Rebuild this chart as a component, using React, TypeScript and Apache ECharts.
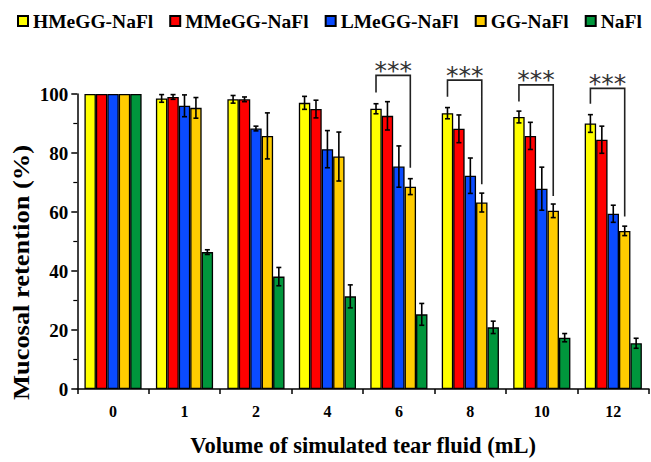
import React, { useEffect, useRef } from "react";
import * as echarts from "echarts";

const categories = ["0", "1", "2", "4", "6", "8", "10", "12"];
const seriesNames = ["HMeGG-NaFl", "MMeGG-NaFl", "LMeGG-NaFl", "GG-NaFl", "NaFl"];
const seriesColors = ["#FFFF00", "#FF0000", "#0A4BFF", "#FFCC00", "#00963C"];

const hmeggValues = [100, 98.5, 98.2, 97, 95, 93.5, 92.2, 90];
const hmeggErrors = [0, 1.3, 1.3, 2.2, 1.7, 1.9, 2, 3];
const mmeggValues = [100, 99, 98.2, 94.9, 92.6, 88.2, 85.8, 84.5];
const mmeggErrors = [0, 0.8, 0.8, 3, 4.8, 4.7, 4.6, 4.6];
const lmeggValues = [100, 96, 88.3, 81.3, 75.4, 72.3, 67.9, 59.4];
const lmeggErrors = [0, 3.7, 0.8, 6.3, 7, 6, 7.3, 2.9];
const ggValues = [100, 95.3, 85.8, 78.8, 68.6, 63.2, 60.4, 53.6];
const ggErrors = [0, 3.5, 7.8, 8.3, 2.7, 3.2, 2.3, 1.6];
const naflValues = [100, 46.4, 38.1, 31.4, 25.3, 20.9, 17.4, 15.5];
const naflErrors = [0, 0.8, 3.1, 3.9, 3.7, 2.1, 1.4, 1.7];

// significance brackets: [category index, left end, right end, top] in axis units
const sigCategoryIdx = [4, 5, 6, 7];
const sigLeftEnd = [100.5, 99.1, 97.5, 96.7];
const sigRightEnd = [75, 69.4, 65.4, 58.5];
const sigTop = [106.3, 104.7, 103.1, 101.9];
const sigLabel = "***";

const yTicks = { min: 0, max: 100, interval: 20 };

const allValues = [hmeggValues, mmeggValues, lmeggValues, ggValues, naflValues];
const allErrors = [hmeggErrors, mmeggErrors, lmeggErrors, ggErrors, naflErrors];

const SERIF = '"Liberation Serif", "Times New Roman", serif';
const CAT_GAP = 0.2;

export default function App() {
  const ref = useRef<HTMLDivElement>(null);
  useEffect(() => {
    document.body.style.margin = "0";
    if (!ref.current) return;
    const chart = echarts.init(ref.current, undefined, { renderer: "svg" });

    const barSeries = seriesNames.map((name, i) => ({
      name,
      type: "bar",
      data: allValues[i],
      barGap: "0%",
      barCategoryGap: "20%",
      itemStyle: { color: seriesColors[i], borderColor: "#000", borderWidth: 1.3 },
      z: 2,
    }));

    const errSeries = seriesNames.map((name, i) => ({
      name: "err-" + name,
      type: "custom",
      z: 5,
      silent: true,
      data: allValues[i].map((v, k) => [k, v, allErrors[i][k]]),
      encode: { x: 0, y: 1 },
      renderItem: (params: any, api: any) => {
        const c = api.value(0);
        const v = api.value(1);
        const e = api.value(2);
        if (!e) return null;
        const band = api.size([1, 0])[0];
        const bw = (band * (1 - CAT_GAP)) / 5;
        const off = (i - 2) * bw;
        const top = api.coord([c, v + e]);
        const bot = api.coord([c, v - e]);
        const x = top[0] + off;
        const cap = 2.5;
        const st = { stroke: "#000", lineWidth: 1.6 };
        return {
          type: "group",
          children: [
            { type: "line", shape: { x1: x, y1: top[1], x2: x, y2: bot[1] }, style: st },
            { type: "line", shape: { x1: x - cap, y1: top[1], x2: x + cap, y2: top[1] }, style: st },
            { type: "line", shape: { x1: x - cap, y1: bot[1], x2: x + cap, y2: bot[1] }, style: st },
          ],
        };
      },
    }));

    const sigSeries = {
      name: "significance",
      type: "custom",
      z: 6,
      silent: true,
      clip: false,
      data: sigCategoryIdx.map((c, k) => [c, sigLeftEnd[k], sigRightEnd[k], sigTop[k]]),
      encode: { x: 0, y: 1 },
      renderItem: (params: any, api: any) => {
        const c = api.value(0);
        const band = api.size([1, 0])[0];
        const bw = (band * (1 - CAT_GAP)) / 5;
        const pL = api.coord([c, api.value(1)]);
        const pR = api.coord([c, api.value(2)]);
        const pT = api.coord([c, api.value(3)]);
        const xL = pL[0] - 2 * bw;
        const xR = pL[0] + bw;
        return {
          type: "group",
          children: [
            {
              type: "polyline",
              shape: { points: [[xL, pL[1]], [xL, pT[1]], [xR, pT[1]], [xR, pR[1]]] },
              style: { stroke: "#222", lineWidth: 1.6, fill: null },
            },
            {
              type: "text",
              x: (xL + xR) / 2,
              y: pT[1] - 5,
              style: {
                text: sigLabel,
                fontFamily: '"DejaVu Sans", sans-serif',
                fontSize: 25,
                fill: "#333",
                textAlign: "center",
                textVerticalAlign: "middle",
              },
            },
          ],
        };
      },
    };

    chart.setOption({
      animation: false,
      textStyle: { fontFamily: SERIF },
      grid: { left: 77.3, right: 2, top: 94, bottom: 68 },
      legend: {
        data: seriesNames,
        left: 12,
        top: 6,
        width: 640,
        icon: "rect",
        itemWidth: 10,
        itemHeight: 10,
        itemGap: 16,
        textStyle: { fontFamily: SERIF, fontWeight: "bold", fontSize: 19.5, color: "#000" },
      },
      xAxis: {
        type: "category",
        data: categories,
        name: "Volume of simulated tear fluid (mL)",
        nameLocation: "middle",
        nameGap: 45,
        nameTextStyle: { fontFamily: SERIF, fontWeight: "bold", fontSize: 22.5, color: "#000" },
        axisLine: { lineStyle: { color: "#000", width: 1.5 } },
        axisTick: { show: true, length: 5, lineStyle: { color: "#000", width: 1.5 } },
        axisLabel: { interval: 0, margin: 14, fontFamily: SERIF, fontWeight: "bold", fontSize: 16, color: "#000" },
        splitLine: { show: false },
      },
      yAxis: {
        type: "value",
        min: yTicks.min,
        max: yTicks.max,
        interval: yTicks.interval,
        axisLine: { show: true, lineStyle: { color: "#000", width: 1.5 } },
        axisTick: { show: true, length: 6, lineStyle: { color: "#000", width: 1.5 } },
        minorTick: { show: true, splitNumber: 2, length: 4, lineStyle: { color: "#000", width: 1.2 } },
        axisLabel: { margin: 9, fontFamily: SERIF, fontWeight: "bold", fontSize: 19, color: "#000" },
        splitLine: { show: false },
      },
      graphic: [
        {
          type: "text",
          x: 21.5,
          y: 272.5,
          rotation: Math.PI / 2,
          scaleX: 1.15,
          style: {
            text: "Mucosal retention (%)",
            fontFamily: SERIF,
            fontWeight: "bold",
            fontSize: 23,
            fill: "#000",
            textAlign: "center",
            textVerticalAlign: "middle",
          },
        },
      ],
      series: [...barSeries, ...errSeries, sigSeries],
    });
    return () => chart.dispose();
  }, []);
  return <div ref={ref} style={{ width: 651, height: 462 }} />;
}
